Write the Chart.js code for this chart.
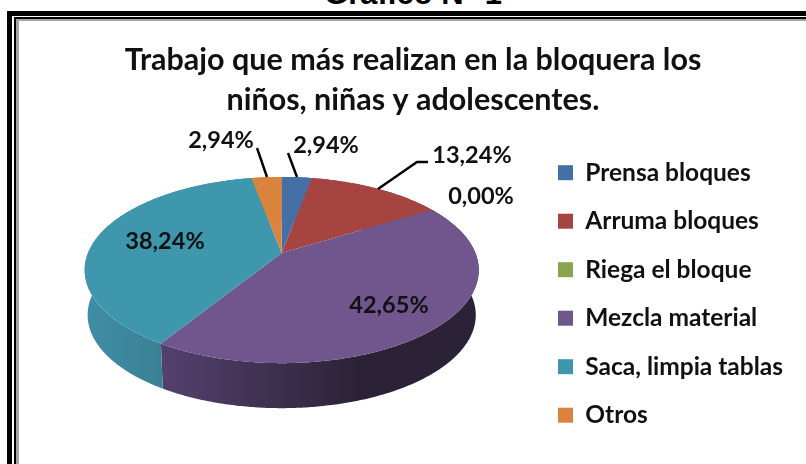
<!DOCTYPE html>
<html><head><meta charset="utf-8">
<script src="https://cdn.jsdelivr.net/npm/chart.js@4"></script>
<style>
html,body{margin:0;padding:0;background:#fff;overflow:hidden;width:806px;height:464px}
.f{position:absolute;left:0;top:0}
#cap{position:absolute;left:20px;width:786px;top:-22px;text-align:center;font:bold 31px "Liberation Sans",Arial,sans-serif;color:#000;line-height:32px;white-space:nowrap}
canvas{position:absolute;left:20px;top:0}
</style></head><body>
<div class="f" style="left:7px;top:11px;width:900px;height:600px;background:#000"></div>
<div class="f" style="left:12px;top:16px;width:900px;height:600px;background:#fff"></div>
<div class="f" style="left:14px;top:17px;width:900px;height:600px;background:#000"></div>
<div class="f" style="left:16px;top:19px;width:900px;height:600px;background:#a3a3a3"></div>
<div class="f" style="left:19px;top:21px;width:900px;height:600px;background:#fff"></div>
<div id="cap">Gráfico N° 1</div>
<canvas id="c" width="786" height="464"></canvas>
<script>
const categories=["Prensa bloques","Arruma bloques","Riega el bloque","Mezcla material","Saca, limpia tablas","Otros"];
const values=[2.94,13.24,0,42.65,38.24,2.94];
const colors=["#4470a6","#a64442","#89a54e","#70568c","#3f97ae","#d9833c"];
const titleLines=["Trabajo que más realizan en la bloquera los","niños, niñas y adolescentes."];
const labelPos=[[326,145],[472,155],[481,196],[389,305],[165,241],[221,140]];
const leaders=[[[288,153],[297,177]],[[378,189],[417,162],[428,162]],[],[],[],[[257,148],[267,177]]];
const wallStops=[null,null,null,[["#54416e",0],["#2c2238",0.62],["#2c2238",1]],[["#3f8ea6",0],["#35707f",1]],null];

const geo={cx:281.7,cy:253,A:193.7,B:90,k:0.183,depth:45,shrink:0.985};
function rim(t){const w=1+geo.k*Math.cos(t);return [geo.cx+geo.A*Math.sin(t)/w,geo.cy-geo.B*Math.cos(t)/w];}
function samples(a,b){const n=Math.max(2,Math.ceil((b-a)/0.01)),p=[];for(let i=0;i<=n;i++)p.push(rim(a+(b-a)*i/n));return p;}

const pie3d={id:'pie3d',
 beforeDatasetDraw(chart,args){
  const ctx=chart.ctx,arcs=chart.getDatasetMeta(args.index).data;
  ctx.save();ctx.translate(-20,0);
  arcs.forEach((arc,i)=>{ // side wall
   const a=arc.startAngle+Math.PI/2,b=arc.endAngle+Math.PI/2;
   if(b-a<1e-4)return;
   const p=samples(a,b),low=p.map(q=>[geo.cx+(q[0]-geo.cx)*geo.shrink,q[1]+geo.depth]).reverse();
   const xs=p.map(q=>q[0]);
   let fill=colors[i];
   if(wallStops[i]){const g=ctx.createLinearGradient(Math.min(...xs),0,Math.max(...xs),0);wallStops[i].forEach(s=>g.addColorStop(s[1],s[0]));fill=g;}
   ctx.beginPath();p.concat(low).forEach((q,j)=>j?ctx.lineTo(q[0],q[1]):ctx.moveTo(q[0],q[1]));ctx.closePath();
   ctx.fillStyle=fill;ctx.fill();
  });
  arcs.forEach((arc,i)=>{ // top face
   const a=arc.startAngle+Math.PI/2,b=arc.endAngle+Math.PI/2;
   if(b-a<1e-4)return;
   ctx.beginPath();ctx.moveTo(geo.cx,geo.cy);samples(a,b).forEach(q=>ctx.lineTo(q[0],q[1]));ctx.closePath();
   ctx.fillStyle=colors[i];ctx.fill();
  });
  ctx.restore();
  return false;
 },
 afterDatasetsDraw(chart){
  const ctx=chart.ctx;
  ctx.save();ctx.translate(-20,0);
  ctx.strokeStyle="#000";ctx.lineWidth=2.4;
  leaders.forEach(l=>{if(!l.length)return;ctx.beginPath();l.forEach((q,j)=>j?ctx.lineTo(q[0],q[1]):ctx.moveTo(q[0],q[1]));ctx.stroke();});
  ctx.fillStyle="#111";ctx.font='bold 23.5px Lato';ctx.textAlign='center';ctx.textBaseline='middle';
  values.forEach((v,i)=>ctx.fillText(v.toFixed(2).replace('.',',')+'%',labelPos[i][0],labelPos[i][1]));
  ctx.restore();
 }};

new Chart(document.getElementById('c'),{
 type:'pie',
 data:{labels:categories,datasets:[{data:values,backgroundColor:colors,borderWidth:0}]},
 plugins:[pie3d],
 options:{responsive:false,animation:false,
  layout:{padding:{top:0,right:13,bottom:0,left:13}},
  plugins:{
   tooltip:{enabled:false},
   title:{display:true,text:titleLines,color:"#111",font:{family:'Lato',size:30.5,weight:'bold',lineHeight:1.31},padding:{top:40,bottom:4}},
   legend:{position:'right',align:'center',fullSize:false,onClick:null,
    labels:{boxWidth:15,boxHeight:15,padding:24,color:"#111",font:{family:'Lato',size:24.5,weight:'bold'}}}
  }}
});
</script></body></html>
